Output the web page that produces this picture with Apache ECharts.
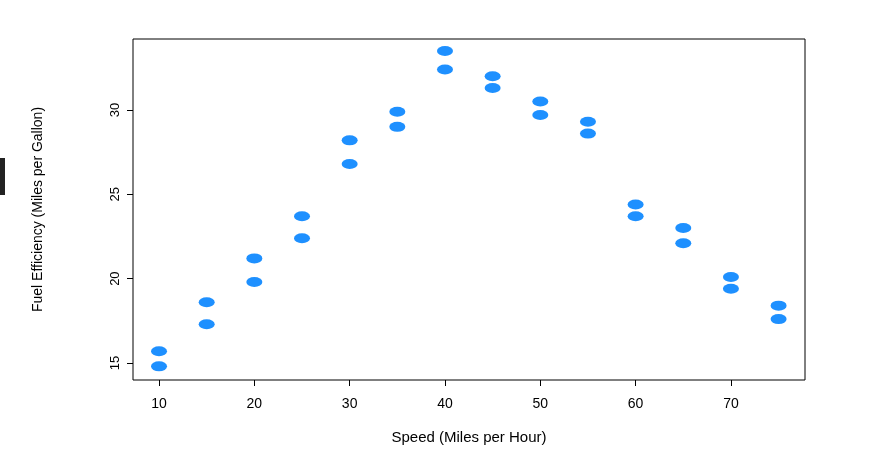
<!DOCTYPE html>
<html>
<head>
<meta charset="utf-8">
<script src="https://cdn.jsdelivr.net/npm/echarts@6/dist/echarts.min.js"></script>
<style>html,body{margin:0;padding:0;background:#fff}#chart{width:871px;height:465px}</style>
</head>
<body>
<div id="chart"></div>
<script>
let speeds = [10, 10, 15, 15, 20, 20, 25, 25, 30, 30, 35, 35, 40, 40, 45, 45, 50, 50, 55, 55, 60, 60, 65, 65, 70, 70, 75, 75];
let efficiency = [15.7, 14.8, 18.6, 17.3, 21.2, 19.8, 23.7, 22.4, 28.2, 26.8, 29.9, 29.0, 33.5, 32.4, 32.0, 31.3, 30.5, 29.7, 29.3, 28.6, 24.4, 23.7, 23.0, 22.1, 20.1, 19.4, 18.4, 17.6];
let xTicks = [10, 20, 30, 40, 50, 60, 70];
let yTicks = [15, 20, 25, 30];

let chart = echarts.init(document.getElementById("chart"));
let option = {
  animation: false,
  textStyle: { fontFamily: "Liberation Sans" },
  grid: { left: 133, right: 66, top: 39, bottom: 85, show: true, borderColor: "#000", borderWidth: 1 },
  graphic: [{ type: "rect", left: 0, top: 158, shape: { width: 5, height: 37 }, style: { fill: "#222" } }],
  xAxis: {
    type: "value",
    min: 7.27,
    max: 77.77,
    name: "Speed (Miles per Hour)",
    nameLocation: "middle",
    nameGap: 50,
    nameTextStyle: { fontSize: 15, color: "#000" },
    axisLine: { show: false },
    splitLine: { show: false },
    axisTick: { show: true, length: 6, lineStyle: { color: "#000" }, customValues: xTicks },
    axisLabel: { fontSize: 14, color: "#000", margin: 17, customValues: xTicks }
  },
  yAxis: {
    type: "value",
    min: 13.99,
    max: 34.21,
    name: "Fuel Efficiency (Miles per Gallon)",
    nameLocation: "middle",
    nameGap: 88,
    nameTextStyle: { fontSize: 14, color: "#000" },
    axisLine: { show: false },
    splitLine: { show: false },
    axisTick: { show: true, length: 6, lineStyle: { color: "#000" }, customValues: yTicks },
    axisLabel: { fontSize: 13, color: "#000", rotate: 90, margin: 11, customValues: yTicks }
  },
  series: [{
    type: "scatter",
    symbol: "circle",
    symbolSize: [16, 10],
    itemStyle: { color: "#1E90FF", opacity: 1 },
    data: speeds.map(function (s, i) { return [s, efficiency[i]]; })
  }]
};
chart.setOption(option, true);
</script>
</body>
</html>
